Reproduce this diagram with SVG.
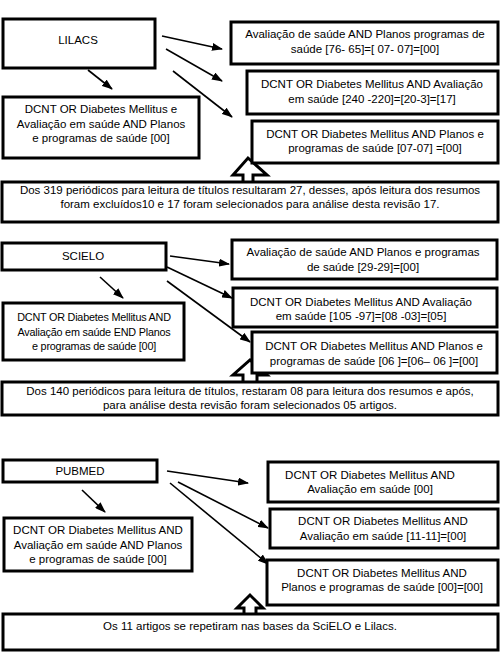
<svg xmlns="http://www.w3.org/2000/svg" width="504" height="657" viewBox="0 0 504 657">
<defs>
<marker id="ah" markerUnits="userSpaceOnUse" markerWidth="11" markerHeight="8" refX="10" refY="4" orient="auto">
<path d="M0,0 L11,4 L0,8 z" fill="#000"/>
</marker>
<style>
.box{fill:#fff;stroke:#000;stroke-width:3}
.t{font-family:"Liberation Sans",Arial,sans-serif;font-size:11.5px;fill:#000;text-anchor:middle}
.s{font-size:10.8px;letter-spacing:-0.2px}
.c{stroke:#000;stroke-width:1.6;fill:none;marker-end:url(#ah)}
.ho{fill:#fff;stroke:#000;stroke-width:3;stroke-linejoin:miter}
</style>
</defs>
<rect width="504" height="657" fill="#fff"/>

<g id="connectors">
<line class="c" x1="88" y1="70" x2="112" y2="89"/>
<line class="c" x1="162" y1="36" x2="222" y2="49"/>
<line class="c" x1="166" y1="49" x2="222" y2="81"/>
<line class="c" x1="173" y1="71" x2="232" y2="117"/>
<line class="c" x1="100" y1="277" x2="123" y2="298"/>
<line class="c" x1="170" y1="256" x2="229" y2="264"/>
<line class="c" x1="167" y1="267" x2="232" y2="298"/>
<line class="c" x1="167" y1="281" x2="250" y2="342"/>
<line class="c" x1="82" y1="490" x2="105" y2="512"/>
<line class="c" x1="167" y1="471" x2="248" y2="483"/>
<line class="c" x1="178" y1="482" x2="268" y2="528"/>
<line class="c" x1="170" y1="483" x2="268" y2="564"/>
<polyline class="ho" points="243,183 243,175 233,175 248,158 267,175 253,175 253,183"/>
<polyline class="ho" points="243,383 243,375 233,375 250,360 267,375 257,375 257,383"/>
<polyline class="ho" points="244,614 244,608 237,608 250,595 263,608 256,608 256,614"/>
</g>

<g id="lilacs">
<rect class="box" x="3" y="19" width="152" height="49"/>
<text class="t" x="78" y="44">LILACS</text>
</g>
<g id="lilacs-a">
<rect class="box" x="3" y="97" width="196" height="61"/>
<text class="t" x="101" y="113">DCNT OR Diabetes Mellitus e</text>
<text class="t" x="101" y="128">Avaliação em saúde AND Planos</text>
<text class="t" x="101" y="142">e programas de saúde [00]</text>
</g>
<g id="lilacs-b">
<rect class="box" x="231" y="22" width="267" height="42"/>
<text class="t" x="365" y="38">Avaliação de saúde AND Planos programas de</text>
<text class="t" x="365" y="53">saúde [76- 65]=[ 07- 07]=[00]</text>
</g>
<g id="lilacs-c">
<rect class="box" x="247" y="71" width="251" height="43"/>
<text class="t" x="372" y="88">DCNT OR Diabetes Mellitus AND Avaliação</text>
<text class="t" x="372" y="103">em saúde [240 -220]=[20-3]=[17]</text>
</g>
<g id="lilacs-d">
<rect class="box" x="252" y="121" width="246" height="42"/>
<text class="t" x="375" y="138">DCNT OR Diabetes Mellitus AND Planos e</text>
<text class="t" x="375" y="152">programas de saúde [07-07] =[00]</text>
</g>
<g id="lilacs-sum">
<rect class="box" x="2" y="182" width="496" height="40"/>
<text class="t" x="250" y="194">Dos 319 periódicos para leitura de títulos resultaram 27, desses, após leitura dos resumos</text>
<text class="t" x="250" y="208">foram excluídos10 e 17 foram selecionados para análise desta revisão 17.</text>
</g>

<g id="scielo">
<rect class="box" x="2" y="243" width="164" height="27"/>
<text class="t" x="83" y="260">SCIELO</text>
</g>
<g id="scielo-a">
<rect class="box" x="3" y="303" width="181" height="57"/>
<text class="t s" x="94" y="321">DCNT OR  Diabetes Mellitus AND</text>
<text class="t s" x="94" y="336">Avaliação em saúde  END Planos</text>
<text class="t s" x="94" y="350">e programas de saúde [00]</text>
</g>
<g id="scielo-b">
<rect class="box" x="232" y="240" width="265" height="39"/>
<text class="t" x="363" y="256">Avaliação de saúde AND Planos e programas</text>
<text class="t" x="363" y="271">de saúde [29-29]=[00]</text>
</g>
<g id="scielo-c">
<rect class="box" x="233" y="288" width="264" height="39"/>
<text class="t" x="361" y="306">DCNT OR Diabetes Mellitus AND Avaliação</text>
<text class="t" x="361" y="320">em saúde [105 -97]=[08 -03]=[05]</text>
</g>
<g id="scielo-d">
<rect class="box" x="252" y="332" width="245" height="41"/>
<text class="t" x="374" y="350">DCNT OR Diabetes Mellitus AND Planos e</text>
<text class="t" x="374" y="365">programas de saúde [06 ]=[06– 06 ]=[00]</text>
</g>
<g id="scielo-sum">
<rect class="box" x="2" y="382" width="496" height="33"/>
<text class="t" x="250" y="395">Dos 140 periódicos para leitura de títulos, restaram 08 para leitura dos resumos e após,</text>
<text class="t" x="250" y="409">para análise desta revisão foram selecionados 05 artigos.</text>
</g>

<g id="pubmed">
<rect class="box" x="3" y="460" width="154" height="22"/>
<text class="t" x="80" y="475">PUBMED</text>
</g>
<g id="pubmed-a">
<rect class="box" x="4" y="518" width="188" height="53"/>
<text class="t" x="98" y="534">DCNT OR Diabetes Mellitus AND</text>
<text class="t" x="98" y="549">Avaliação em saúde AND Planos</text>
<text class="t" x="98" y="563">e programas de saúde [00]</text>
</g>
<g id="pubmed-b">
<rect class="box" x="268" y="462" width="230" height="40"/>
<text class="t" x="370" y="479">DCNT OR Diabetes Mellitus AND</text>
<text class="t" x="370" y="493">Avaliação em saúde [00]</text>
</g>
<g id="pubmed-c">
<rect class="box" x="270" y="509" width="228" height="39"/>
<text class="t" x="383" y="525">DCNT OR Diabetes Mellitus AND</text>
<text class="t" x="383" y="540">Avaliação em saúde [11-11]=[00]</text>
</g>
<g id="pubmed-d">
<rect class="box" x="267" y="560" width="231" height="45"/>
<text class="t" x="382" y="577">DCNT OR Diabetes Mellitus AND</text>
<text class="t" x="382" y="591">Planos e programas de saúde [00]=[00]</text>
</g>
<g id="pubmed-sum">
<rect class="box" x="3" y="614" width="495" height="36"/>
<text class="t" x="250" y="630">Os 11 artigos se repetiram nas bases da SciELO e Lilacs.</text>
</g>
</svg>
